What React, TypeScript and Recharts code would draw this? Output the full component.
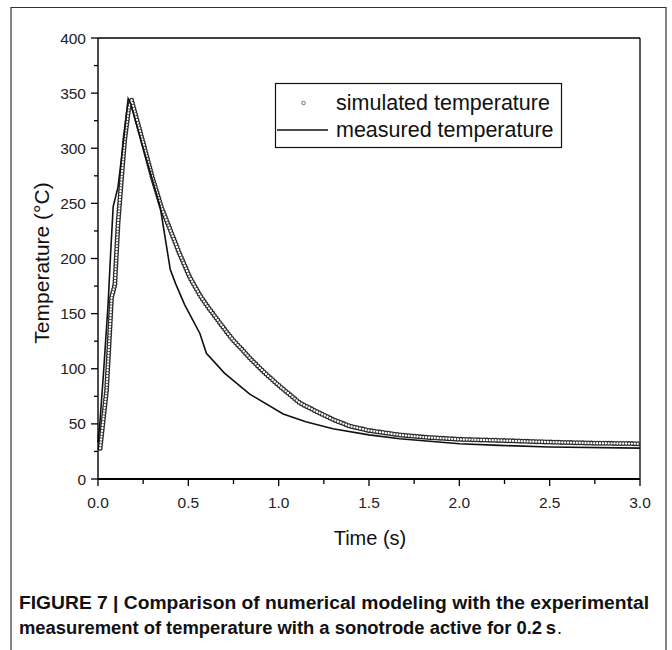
import React from "react";
import { LineChart, Line, XAxis, YAxis, ReferenceLine } from "recharts";

// Simulated temperature (open circles)
const simTime = [0.012, 0.02, 0.03, 0.047, 0.06, 0.075, 0.085, 0.093, 0.111, 0.13, 0.148, 0.17, 0.185, 0.2, 0.25, 0.3, 0.352, 0.4, 0.45, 0.508, 0.563, 0.6, 0.65, 0.7, 0.748, 0.8, 0.85, 0.932, 1.0, 1.117, 1.2, 1.3, 1.394, 1.5, 1.67, 1.8, 2.0, 2.22, 2.5, 2.75, 3.0];
const simTemp = [28, 40, 55, 80, 118, 165, 171, 176, 232, 272, 308, 336, 344, 335, 305, 274, 246, 226, 205, 183, 167, 158, 147, 136, 126, 117, 108, 95, 85, 69, 62, 54, 48, 44, 40, 38, 36, 35, 33.5, 32.5, 32];

// Measured temperature (solid line)
const measTime = [0, 0.01, 0.03, 0.056, 0.07, 0.084, 0.111, 0.14, 0.167, 0.18, 0.25, 0.3, 0.345, 0.4, 0.43, 0.48, 0.564, 0.6, 0.7, 0.84, 1.025, 1.15, 1.3, 1.5, 1.67, 2.0, 2.22, 2.5, 3.0];
const measTemp = [33, 50, 95, 159, 205, 247, 265, 305, 345, 341, 300, 272, 246, 190, 177, 158, 132, 114, 96, 77, 59, 52, 45.5, 40, 36.5, 32, 30.5, 29, 28];

const xTicks = [0, 0.25, 0.5, 0.75, 1, 1.25, 1.5, 1.75, 2, 2.25, 2.5, 2.75, 3];
const yTicks = [0, 25, 50, 75, 100, 125, 150, 175, 200, 225, 250, 275, 300, 325, 350, 375, 400];

const seriesNames = ["simulated temperature", "measured temperature"];
const xTitle = "Time (s)";
const yTitle = "Temperature (°C)";
const captionLine1 = "FIGURE 7 | Comparison of numerical modeling with the experimental";
const captionLine2 = "measurement of temperature with a sonotrode active for 0.2\u2009s";

const simData = simTime.map((t, i) => ({ t, v: simTemp[i] }));
const measData = measTime.map((t, i) => ({ t, v: measTemp[i] }));

const FONT = "'Liberation Sans', Arial, Helvetica, sans-serif";

const XTick = (props: any) => {
  const { x, y, payload } = props;
  const v = payload.value as number;
  const major = Math.abs(v * 2 - Math.round(v * 2)) < 1e-6;
  return (
    <g>
      <line x1={x} x2={x} y1={y} y2={y + (major ? 7 : 5)} stroke="#000" strokeWidth={1.3} />
      {major && (
        <text x={x} y={y + 29} textAnchor="middle" fontSize={15.5} fill="#222" fontFamily={FONT}>
          {v.toFixed(1)}
        </text>
      )}
    </g>
  );
};

const YTick = (props: any) => {
  const { x, y, payload } = props;
  const v = payload.value as number;
  const major = v % 50 === 0;
  return (
    <g>
      <line x1={x} x2={x - (major ? 7 : 4)} y1={y} y2={y} stroke="#000" strokeWidth={1.3} />
      {major && (
        <text x={x - 12} y={y + 5.5} textAnchor="end" fontSize={15.5} fill="#222" fontFamily={FONT}>
          {v}
        </text>
      )}
    </g>
  );
};

export default function App() {
  return (
    <div
      style={{
        position: "absolute",
        left: 0,
        top: 0,
        width: 672,
        height: 650,
        background: "#fff",
        fontFamily: FONT,
        overflow: "hidden",
      }}
    >
      <div style={{ position: "absolute", left: 0, top: 0 }}>
        <LineChart width={672} height={560} margin={{ top: 38, right: 32, bottom: 41, left: 38 }}>
          <XAxis
            dataKey="t"
            type="number"
            domain={[0, 3]}
            ticks={xTicks}
            interval={0}
            tickSize={0}
            tickMargin={0}
            tick={<XTick />}
            tickLine={false}
            axisLine={{ stroke: "#000", strokeWidth: 1.8 }}
            height={40}
            allowDuplicatedCategory={false}
          />
          <YAxis
            type="number"
            domain={[0, 400]}
            ticks={yTicks}
            interval={0}
            tickSize={0}
            tickMargin={0}
            tick={<YTick />}
            tickLine={false}
            axisLine={{ stroke: "#000", strokeWidth: 1.4 }}
            width={60}
          />
          <ReferenceLine y={400} stroke="#000" strokeWidth={1.3} />
          <ReferenceLine x={3} stroke="#000" strokeWidth={1.3} />
          <Line
            data={simData}
            dataKey="v"
            type="linear"
            stroke="#2a2a2a"
            strokeWidth={5}
            strokeLinecap="round"
            strokeDasharray="0 2.9"
            dot={false}
            activeDot={false}
            isAnimationActive={false}
            name={seriesNames[0]}
          />
          <Line
            data={simData}
            dataKey="v"
            type="linear"
            stroke="#ffffff"
            strokeWidth={2.4}
            strokeLinecap="round"
            strokeDasharray="0 2.9"
            dot={false}
            activeDot={false}
            isAnimationActive={false}
            legendType="none"
          />
          <Line
            data={measData}
            dataKey="v"
            type="linear"
            stroke="#111"
            strokeWidth={1.6}
            dot={false}
            activeDot={false}
            isAnimationActive={false}
            name={seriesNames[1]}
          />
        </LineChart>
      </div>
      <svg
        width={672}
        height={650}
        style={{ position: "absolute", left: 0, top: 0, pointerEvents: "none" }}
      >
        {/* outer frame */}
        <path d="M11 650 V7.5 H666 V650" fill="none" stroke="#333" strokeWidth={1.2} />
        {/* axis titles */}
        <text x={370} y={545} textAnchor="middle" fontSize={20} fill="#111" fontFamily={FONT}>
          {xTitle}
        </text>
        <text
          transform="translate(48.5,263) rotate(-90)"
          textAnchor="middle"
          fontSize={21}
          fill="#111"
          fontFamily={FONT}
        >
          {yTitle}
        </text>
        {/* legend */}
        <rect x={275.5} y={83.5} width={286} height={64} fill="#fff" stroke="#111" strokeWidth={1.2} />
        <circle cx={303.5} cy={103} r={1.8} fill="none" stroke="#666" strokeWidth={0.9} />
        <line x1={277} x2={328} y1={130} y2={130} stroke="#111" strokeWidth={1.6} />
        <text x={336} y={110} fontSize={21.5} fill="#111" fontFamily={FONT}>
          {seriesNames[0]}
        </text>
        <text x={336} y={136.5} fontSize={21.5} fill="#111" fontFamily={FONT}>
          {seriesNames[1]}
        </text>
        {/* caption */}
        <text
          x={19}
          y={609}
          fontSize={18}
          fontWeight="bold"
          fill="#111"
          fontFamily={FONT}
          textLength={630}
          lengthAdjust="spacingAndGlyphs"
        >
          {captionLine1}
        </text>
        <text
          x={19}
          y={634}
          fontSize={18}
          fontWeight="bold"
          fill="#111"
          fontFamily={FONT}
          textLength={537}
          lengthAdjust="spacingAndGlyphs"
        >
          {captionLine2}
        </text>
        <text x={557} y={634} fontSize={18} fill="#111" fontFamily={FONT}>
          .
        </text>
      </svg>
    </div>
  );
}
